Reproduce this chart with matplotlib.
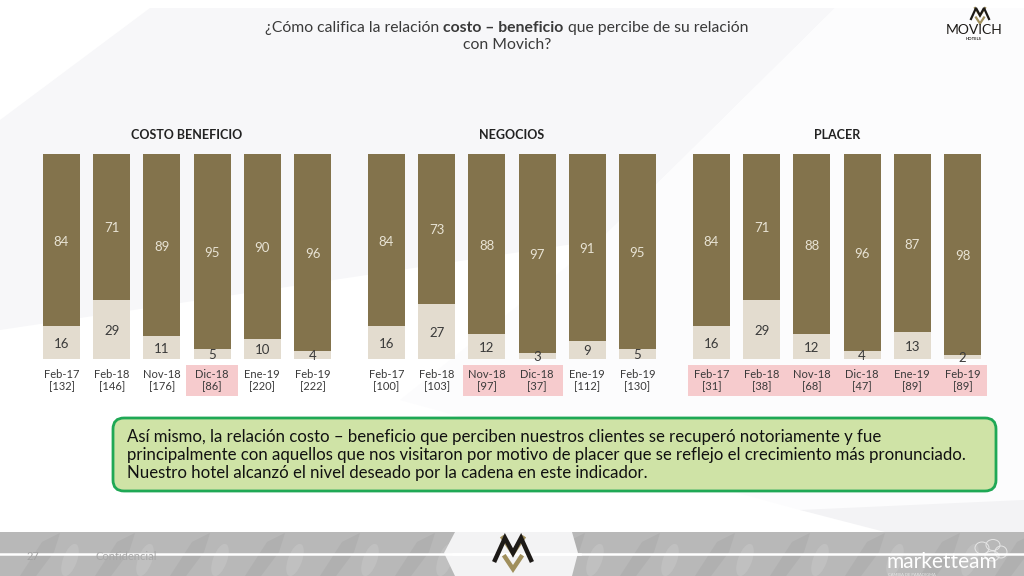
import matplotlib
matplotlib.use("Agg")
import matplotlib.pyplot as plt
from matplotlib.patches import Polygon, Rectangle, FancyBboxPatch, Ellipse

W, H = 1024, 576
FONT = "Lato"
plt.rcParams["font.family"] = [FONT, "DejaVu Sans"]

groups = ["COSTO BENEFICIO", "NEGOCIOS", "PLACER"]
periods = ["Feb-17", "Feb-18", "Nov-18", "Dic-18", "Ene-19", "Feb-19"]
top_costo = [84, 71, 89, 95, 90, 96]
low_costo = [16, 29, 11, 5, 10, 4]
base_costo = [132, 146, 176, 86, 220, 222]
top_neg = [84, 73, 88, 97, 91, 95]
low_neg = [16, 27, 12, 3, 9, 5]
base_neg = [100, 103, 97, 37, 112, 130]
top_pla = [84, 71, 88, 96, 87, 98]
low_pla = [16, 29, 12, 4, 13, 2]
base_pla = [31, 38, 68, 47, 89, 89]
title_a = "¿Cómo califica la relación "
title_b = "costo – beneficio"
title_c = " que percibe de su relación"
title_d = "con Movich?"
note_lines = [
    "Así mismo, la relación costo – beneficio que perciben nuestros clientes se recuperó notoriamente y fue",
    "principalmente con aquellos que nos visitaron por motivo de placer que se reflejo el crecimiento más pronunciado.",
    "Nuestro hotel alcanzó el nivel deseado por la cadena en este indicador.",
]

OLIVE = "#83734c"
SAND = "#e3dccf"
TXT = "#3a3a3a"
BLACK = "#1d1a17"
GOLD = "#a08f5c"

fig = plt.figure(figsize=(W / 100, H / 100), dpi=100, facecolor="white")
bg = fig.add_axes([0, 0, 1, 1], zorder=0)
bg.set_xlim(0, W)
bg.set_ylim(H, 0)
bg.axis("off")

# soft background shards
bg.add_patch(Polygon([(150, 8), (835, 8), (600, 240), (0, 330), (0, 120)], fc="#f7f7f9", ec="none"))
bg.add_patch(Polygon([(835, 8), (1024, 8), (1024, 532), (940, 532), (800, 510), (400, 400), (600, 240)], fc="#fcfcfd", ec="none"))
bg.add_patch(Polygon([(800, 510), (1024, 500), (1024, 532), (885, 532)], fc="#f3f3f5", ec="none"))

# highlighted (small base) labels
for x0, x1 in [(186, 238), (463, 563), (688, 987)]:
    bg.add_patch(Rectangle((x0, 365), x1 - x0, 31, fc="#f6cbcd", ec="none"))

# footer
bg.add_patch(Rectangle((0, 532), W, 44, fc="#b8b8b8", ec="none"))
for x in range(20, 1024, 75):
    bg.add_patch(Polygon([(x, 576), (x + 22, 542), (x + 40, 533), (x + 34, 552), (x + 16, 576)], fc="#b0b0b0", ec="none"))
    bg.add_patch(Ellipse((x + 50, 560), 14, 34, angle=20, fc="#c0c0c0", ec="none"))
bg.plot([0, W], [553.5, 553.5], color="white", lw=1.8)
bg.add_patch(Polygon([(455, 532), (572, 532), (578, 553), (572, 576), (455, 576), (444, 553)], fc="#f3f3f4", ec="none"))
bg.plot([453, 580], [553.5, 553.5], color="white", lw=1.8)


def logo(cx, top, s, lw):
    """Movich monogram, drawn around a centre x and a top y, scale s."""
    bg.plot([cx - 10 * s, cx, cx + 10 * s], [top, top + 15 * s, top],
            color=GOLD, lw=lw, solid_joinstyle="miter")
    bg.plot([cx - 18 * s, cx - 8 * s, cx, cx + 8 * s, cx + 18 * s],
            [top + 22 * s, top, top + 15 * s, top, top + 22 * s],
            color=BLACK, lw=lw, solid_joinstyle="miter")
    bg.plot([cx - 8 * s, cx, cx + 8 * s], [top + 19 * s, top + 31 * s, top + 19 * s],
            color=GOLD, lw=lw, solid_joinstyle="miter")


logo(513, 538, 1.0, 3.2)
logo(980, 8, 0.5, 1.6)

bg.text(27, 557, "27", fontsize=8, color="#a2a2a2", ha="left", va="center")
bg.text(95, 557, "Confidencial", fontsize=8, color="#a8a8a8", ha="left", va="center")
bg.text(887, 562, "marketteam", fontsize=15, color="white", ha="left", va="center")
bg.text(888, 574.5, "CAMBIA DE PARADIGMA", fontsize=3, color="#e8e8e8", ha="left", va="center")
for cx, cy, w, h in [(982, 548, 14, 12), (993, 545, 14, 11), (1001, 552, 12, 12), (992, 556, 14, 10)]:
    bg.add_patch(Ellipse((cx, cy), w, h, fc="none", ec="#e6e6e6", lw=0.7))

# hotel logo text
bg.text(974, 30, "MOVICH", fontsize=10, color=BLACK, ha="center", va="center")
bg.text(974, 38.5, "HOTELS", fontsize=3, color=BLACK, ha="center", va="center", fontweight="bold")

# heading
FS_T = 11.35
t1 = bg.text(265, 28, title_a, fontsize=FS_T, color=TXT, ha="left", va="center")
t2 = bg.annotate(title_b, xy=(1, 0), xycoords=t1, xytext=(0, 0), textcoords="offset points",
                 fontsize=FS_T, color=TXT, fontweight="bold", va="bottom", ha="left")
t3 = bg.annotate(title_c, xy=(1, 0), xycoords=t2, xytext=(0, 0), textcoords="offset points",
                 fontsize=FS_T, color=TXT, va="bottom", ha="left")
bg.text(507, 45, title_d, fontsize=FS_T, color=TXT, ha="center", va="center")

# note box
bg.add_patch(FancyBboxPatch((113, 418), 883, 73, boxstyle="round,pad=0,rounding_size=11",
                            fc="#cfe3a6", ec="#1fa855", lw=2))
for y, line in zip([437, 455, 473], note_lines):
    bg.text(127, y, line, fontsize=12.05, color="#111111", ha="left", va="center")


# charts
def panel(left_px, title, low, top, base):
    step = 50.2
    ax = fig.add_axes([(left_px - step / 2) / W, (H - 359) / H, 6 * step / W, 205 / H], zorder=2)
    ax.patch.set_alpha(0)
    xs = list(range(len(periods)))
    ax.bar(xs, low, width=0.737, color=SAND)
    ax.bar(xs, top, bottom=low, width=0.737, color=OLIVE)
    for x, a, b in zip(xs, low, top):
        ax.annotate(str(a), (x, a / 2), xytext=(0, -1.1), textcoords="offset points",
                    ha="center", va="center", fontsize=9.5, color="#3a3a3a", annotation_clip=False)
        ax.annotate(str(b), (x, a + b / 2), xytext=(0, -1.1), textcoords="offset points",
                    ha="center", va="center", fontsize=9.5, color="#e8e3d4")
    ax.set_xlim(-0.5, 5.5)
    ax.set_ylim(0, 100)
    ax.set_yticks([])
    ax.set_xticks(xs)
    ax.set_xticklabels([f"{p}\n[{n}]" for p, n in zip(periods, base)], fontsize=8, color=TXT, linespacing=1.1)
    ax.tick_params(axis="x", length=0, pad=7)
    for s in ax.spines.values():
        s.set_visible(False)
    ax.set_title(title, fontsize=9, fontweight="bold", color="#222222", pad=11)


panel(61.5, groups[0], low_costo, top_costo, base_costo)
panel(386.5, groups[1], low_neg, top_neg, base_neg)
panel(711.5, groups[2], low_pla, top_pla, base_pla)

fig.savefig("out.png", dpi=100, facecolor="white")
